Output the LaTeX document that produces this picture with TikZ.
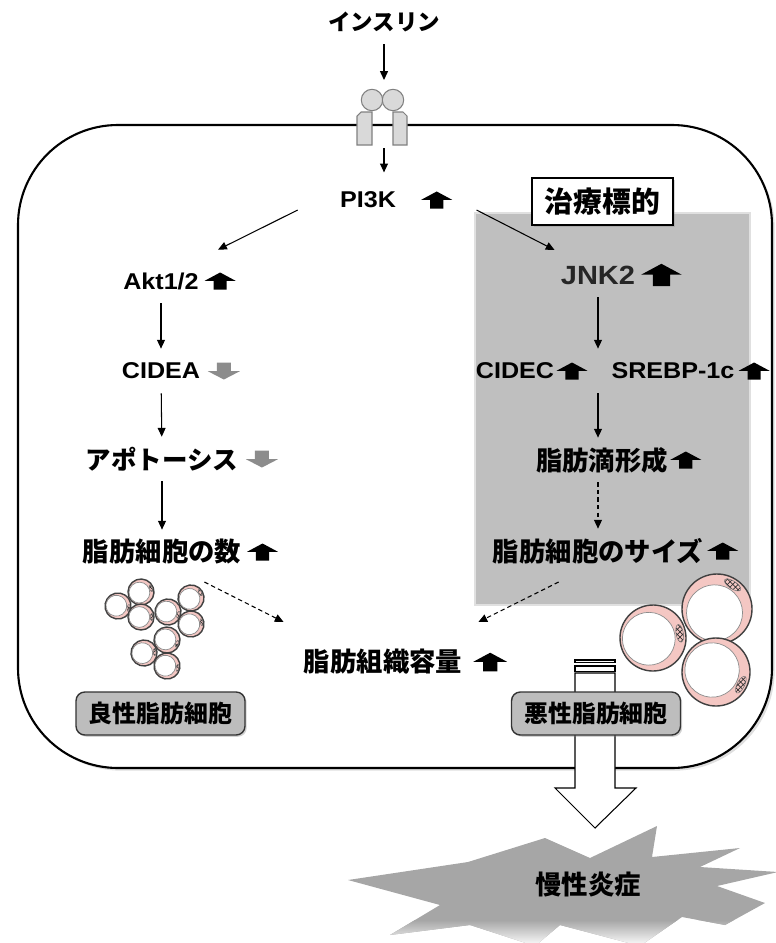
\documentclass[tikz,border=0pt]{standalone}
\usepackage{fontspec}
\setmainfont{Liberation Sans}[FakeStretch=1.1]
\newfontfamily\jp{Noto Sans CJK JP}
\usetikzlibrary{arrows.meta, positioning, shadows, patterns}
\definecolor{boxgray}{HTML}{BFBFBF}
\definecolor{tagfill}{HTML}{BDBDBD}
\definecolor{burstgray}{HTML}{A6A6A6}
\definecolor{downgray}{HTML}{8C8C8C}
\definecolor{rcptfill}{HTML}{D9D9D9}
\definecolor{rcptline}{HTML}{808080}
\definecolor{cellpink}{HTML}{F4C7C3}

% block arrows next to the labels
\newcommand{\upmark}[1][1.1]{\tikz[scale=#1]\fill[black] (-3.4pt,0) -- (3.4pt,0) -- (3.4pt,4.5pt) -- (8pt,4.5pt) -- (0,8.8pt) -- (-8pt,4.5pt) -- (-3.4pt,4.5pt) -- cycle;}
\newcommand{\downmark}{\tikz[scale=1.1]\fill[downgray] (-3.6pt,8.8pt) -- (3.6pt,8.8pt) -- (3.6pt,4.3pt) -- (8.3pt,4.3pt) -- (0,0) -- (-8.3pt,4.3pt) -- (-3.6pt,4.3pt) -- cycle;}

% fat cell: x, y, radius, turn of the nucleus
\newcommand{\adipo}[4]{%
  \begin{scope}[shift={(#1,#2)}, rotate=#4]
    \fill[cellpink, draw=black!75, line width=0.8pt] (0,0) circle[radius=#3];
    \draw[fill=white, draw=black!45, line width=0.4pt] (-0.13*#3,0) circle[radius=0.8*#3];
    \draw[pattern=crosshatch, pattern color=black!80, draw=black!55, line width=0.3pt]
      (0.82*#3,0) ellipse[x radius=0.11*#3, y radius=0.27*#3];
  \end{scope}}

% outline of the burst
\def\burstpath{(348,880) -- (468,862) -- (545,838) -- (590,858) -- (657,826) -- (652,857)
  -- (740,848) -- (700,867) -- (778,872) -- (717,886) -- (765,903) -- (725,925) -- (682,917)
  -- (640,946) -- (560,925) -- (535,946) -- (470,925) -- (390,935) -- (440,905) -- cycle}

\begin{document}
\begin{tikzpicture}[x=0.02cm, y=-0.02cm,
  lbl/.style={font=\bfseries\fontsize{13}{15}\selectfont, inner sep=0pt, minimum height=0.88cm},
  jlbl/.style={lbl, font=\jp\bfseries\fontsize{15}{17}\selectfont},
  icon/.style={inner sep=0pt},
  arr/.style={-{Triangle[length=5pt,width=4.5pt]}, line width=0.6pt},
  dasharr/.style={arr, dash pattern=on 2.5pt off 1.8pt},
  cellwall/.style={line width=1.2pt, rounded corners=2cm, fill=white,
    drop shadow={opacity=0.25, shadow xshift=1.5pt, shadow yshift=-1.5pt}},
  rcpt/.style={fill=rcptfill, draw=rcptline, line width=0.6pt},
  tagbox/.style={rounded corners=5pt, fill=tagfill, draw=black!80, line width=0.8pt,
    minimum width=3.38cm, minimum height=0.86cm, inner sep=0pt,
    font=\jp\bfseries\fontsize{13.6}{15}\selectfont,
    drop shadow={opacity=0.35, shadow xshift=1pt, shadow yshift=-1pt}},
  targetbox/.style={fill=white, draw=black, line width=0.8pt, minimum width=2.82cm,
    minimum height=0.94cm, inner sep=0pt, font=\jp\bfseries\fontsize{16.4}{18}\selectfont,
    drop shadow={opacity=0.3, shadow xshift=1pt, shadow yshift=-1pt}}
]
\useasboundingbox (0,0) rectangle (775,943);

% cell and membrane
\draw[cellwall] (18,125) rectangle (772,768);

% receptor
\draw[rcpt] (357,145) -- (357,116) -- (361,112) -- (372,112) -- (372,145) -- cycle;
\draw[rcpt] (393,145) -- (393,112) -- (403,112) -- (407,116) -- (407,145) -- cycle;
\draw[rcpt] (372,100) circle[radius=10.7];
\draw[rcpt] (393,100) circle[radius=10.7];
\coordinate (rtop) at (384,80);
\coordinate (rbot) at (384,148);

% JNK2 zone
\draw[fill=boxgray, draw=black!12, line width=1pt] (475,213) rectangle (750,605);
\node[targetbox] (target) at (602.5,201.5) {治療標的};

% labels
\node[jlbl, font=\jp\bfseries\fontsize{12.8}{15}\selectfont] (ins) at (384,22) {インスリン};
\node[lbl] (pi3k) at (368,200) {PI3K};
\node[icon, right=14pt of pi3k] (pi3kup) {\upmark};

\node[lbl] (akt) at (161,281) {Akt1/2};
\node[icon, right=3pt of akt] {\upmark};
\node[lbl] (cidea) at (161,371) {CIDEA};
\node[icon, right=4pt of cidea] {\downmark};
\node[jlbl, font=\jp\bfseries\fontsize{14.5}{17}\selectfont] (apo) at (162,459) {アポトーシス};
\node[icon, right=4pt of apo] {\downmark};
\node[jlbl] (num) at (162,552) {脂肪細胞の数};
\node[icon, right=3pt of num] {\upmark};

\node[lbl, font=\bfseries\fontsize{15}{17}\selectfont, text=black!85] (jnk) at (598,275) {JNK2};
\node[icon, right=3pt of jnk] {\upmark[1.45]};
\node[lbl] (cidec) at (515,371) {CIDEC};
\node[icon, right=1pt of cidec] {\upmark};
\node[lbl] (srebp) at (673,371) {SREBP-1c};
\node[icon, right=2pt of srebp] {\upmark};
\node[jlbl] (drop) at (602,460) {脂肪滴形成};
\node[icon, right=1pt of drop] {\upmark};
\node[jlbl] (size) at (598,551) {脂肪細胞のサイズ};
\node[icon, right=2pt of size] {\upmark};

\node[jlbl] (tissue) at (383,662) {脂肪組織容量};
\node[icon, right=6pt of tissue] {\upmark[1.2]};

% connectors
\draw[arr] (ins) -- (rtop);
\draw[arr] (rbot) -- ([yshift=3pt]rbot |- pi3k.north);
\draw[arr] ([shift={(-42,10)}]pi3k.west) -- ([shift={(19,-9)}]akt.north east);
\draw[arr] ([shift={(24,10)}]pi3kup.east) -- ([shift={(-6,-25)}]jnk.west);
\draw[arr] (akt) -- (cidea);
\draw[arr] (cidea) -- (apo);
\draw[arr] (apo) -- (num);
\draw[arr] (jnk) -- (jnk |- cidec.north);
\draw[arr] (jnk |- cidec.south) -- (jnk |- drop.north);
\draw[dasharr] (size |- drop.south) -- (size);
\draw[dasharr] ([shift={(-37,30)}]num.east) -- ([shift={(-20,-40)}]tissue.west);
\draw[dasharr] ([shift={(66,31)}]size.west) -- ([shift={(16,-40)}]tissue.east);

% small fat cells
\foreach \cx/\cy/\ang in {118/606/-10, 141/592/20, 141/617/0, 168/612/-15, 191/598/30,
  191/624/10, 167/640/-20, 144/653/5, 167/666/-10}
  \adipo{\cx}{\cy}{13}{\ang};

% large fat cells
\adipo{653}{638}{33}{10}
\adipo{717}{609}{35}{57}
\adipo{716}{672}{34}{-27}

% outflow arrow through the wall
\draw[fill=white, line width=0.6pt] (575,660) rectangle (615,662.7);
\draw[fill=white, line width=0.6pt] (575,666) rectangle (615,671.3);
\draw[fill=white, line width=0.6pt] (575,673) -- (615,673) -- (615,788) -- (636,788)
  -- (595,828) -- (555,788) -- (575,788) -- cycle;

\node[tagbox] (benign) at (160.5,713.5) {良性脂肪細胞};
\node[tagbox] (malign) at (596,713.5) {悪性脂肪細胞};

% chronic inflammation burst
\fill[burstgray] \burstpath;
\begin{scope}
  \clip \burstpath;
  \shade[top color=burstgray, bottom color=white] (300,920) rectangle (780,946);
\end{scope}
\node[jlbl] (inflam) at (588,885) {慢性炎症};
\end{tikzpicture}
\end{document}
